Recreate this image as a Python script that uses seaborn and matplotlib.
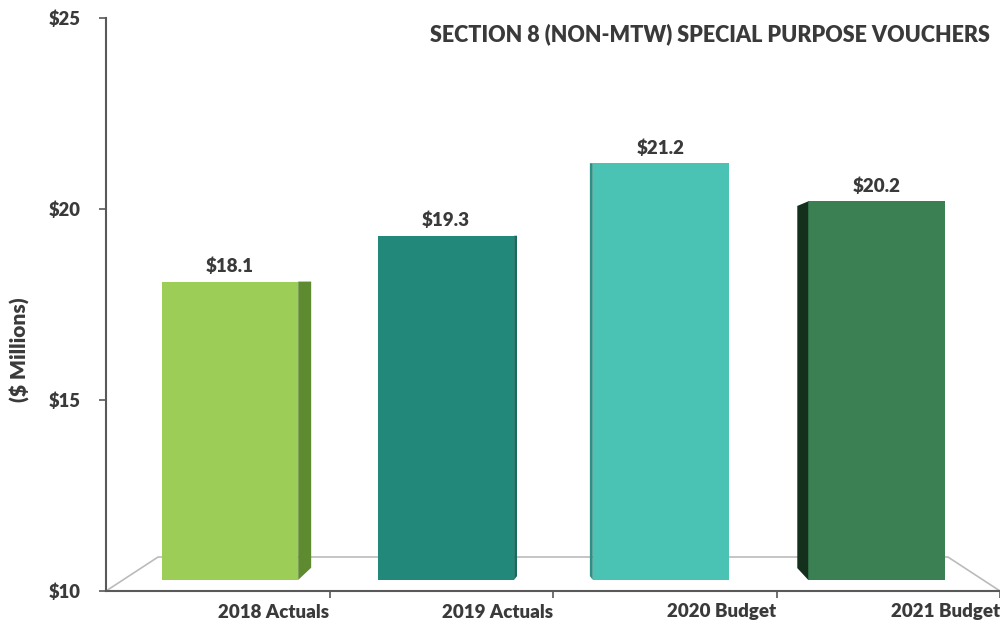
import matplotlib
matplotlib.use("Agg")
import matplotlib.pyplot as plt
import seaborn as sns
import pandas as pd
from matplotlib.patches import Polygon

categories = ["2018 Actuals", "2019 Actuals", "2020 Budget", "2021 Budget"]
values = [18.1, 19.3, 21.2, 20.2]
value_labels = ["$18.1", "$19.3", "$21.2", "$20.2"]
yticks = [10, 15, 20, 25]
ytick_labels = ["$10", "$15", "$20", "$25"]
title = "SECTION 8 (NON-MTW) SPECIAL PURPOSE VOUCHERS"
ylabel = "($ Millions)"

front_colors = ["#9BCD57", "#22897A", "#4AC2B4", "#3A8052"]
side_colors = ["#5E8A30", "#1A6B5F", "#2E8F84", "#142F1C"]
side_depth = [0.058, 0.013, -0.013, -0.049]   # + right side, - left side
side_drop = [0.32, 0.1, 0.1, 0.31]
bar_shift = [0.055, 0.021, -0.017, -0.053]

sns.set_theme(style="white")
plt.rcParams['font.family'] = ['Lato', 'DejaVu Sans']
TXT = "#3A3A3A"
W = "heavy"

df = pd.DataFrame({"cat": categories, "val": values})
fig = plt.figure(figsize=(10, 6.24), dpi=100)
ax = fig.add_axes([0.106, 33/624, 0.894, (591-18)/624])
sns.barplot(data=df, x="cat", y="val", hue="cat", palette=front_colors,
            legend=False, ax=ax, width=0.61, saturation=1, linewidth=0)

ax.set_ylim(10, 25)
ax.set_xlim(-0.5, 3.5)
bottom = 10.29
for i, p in enumerate(ax.patches):
    x0 = p.get_x() + bar_shift[i]
    p.set_x(x0)
    p.set_y(bottom)
    p.set_height(values[i] - bottom)
    w = p.get_width()
    top = values[i]
    d = side_depth[i]
    if d > 0:
        ex = x0 + w
        poly = [(ex, bottom), (ex + d, bottom + side_drop[i]), (ex + d, top), (ex, top)]
    else:
        ex = x0
        poly = [(ex, bottom), (ex + d, bottom + side_drop[i]),
                (ex + d, top - 0.12 if i == 3 else top), (ex, top)]
    ax.add_patch(Polygon(poly, closed=True, facecolor=side_colors[i],
                         edgecolor="none", zorder=p.get_zorder()))
    ax.text(x0 + w / 2, top + 0.17, value_labels[i], ha="center", va="bottom",
            fontsize=13.5, fontweight=W, color=TXT)

# floor
floor_back = 10.89
ax.plot([-0.5, -0.267, 3.267, 3.5], [10, floor_back, floor_back, 10],
        color="#BBBBBB", lw=1.2, zorder=0.5, clip_on=False)

for s in ["top", "right"]:
    ax.spines[s].set_visible(False)
for s in ["left", "bottom"]:
    ax.spines[s].set_color("#595959")
    ax.spines[s].set_linewidth(1.5)

ax.set_yticks(yticks)
ax.set_yticklabels(ytick_labels, fontsize=13.2, fontweight=W, color=TXT)
ax.set_xticks([0.5, 1.5, 2.5, 3.5])
ax.set_xticklabels(categories, fontsize=13.5, fontweight=W, color=TXT, ha="right")
ax.tick_params(axis="both", direction="out", length=5, width=1.2, color="#595959",
               left=True, bottom=True)
ax.tick_params(axis="y", pad=13)
ax.tick_params(axis="x", pad=4)
ax.set_xlabel("")
ax.set_ylabel(ylabel, fontsize=15, fontweight=W, color=TXT)
ax.yaxis.set_label_coords(-0.085, 0.422)
ax.grid(False)

fig.text(0.71, 0.945, title, ha="center", va="center", fontsize=15.5,
         fontweight=W, color=TXT)

fig.savefig("out.png", dpi=100)
